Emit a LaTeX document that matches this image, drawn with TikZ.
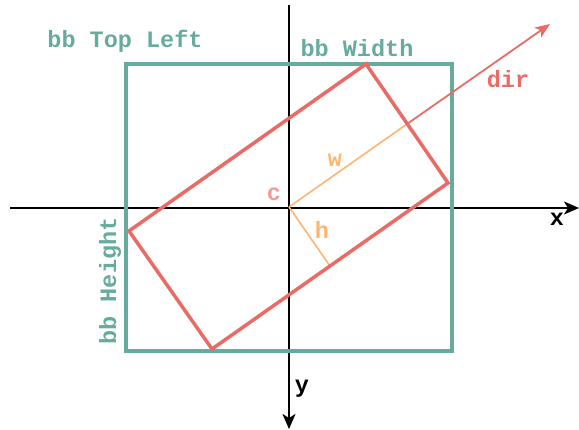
\documentclass[tikz,border=0pt]{standalone}
\usepackage{fontspec}
\setmonofont{Liberation Mono}
\usetikzlibrary{arrows.meta}
\definecolor{teal1}{HTML}{67AB9F}
\definecolor{red1}{HTML}{EA6B66}
\definecolor{orange1}{HTML}{FFB570}
\definecolor{pink1}{HTML}{F19C99}
\tikzset{
  lbl/.style={font=\ttfamily\bfseries\fontsize{23.5}{25}\selectfont, inner sep=0pt},
  axis/.style={line width=2pt, black, -{Stealth[length=15pt,width=13pt,inset=4pt]}},
  bbox/.style={line width=3.5pt, teal1},
  rbox/.style={line width=3.5pt, red1, line join=miter},
  olin/.style={line width=1.6pt, orange1},
  dirarrow/.style={line width=1.8pt, red1, -{Stealth[length=15pt,width=12pt,inset=4pt]}}
}
\begin{document}
\begin{tikzpicture}[x=1pt,y=-1pt]
\useasboundingbox (0,0) rectangle (579,430);
% axes
\coordinate (xl) at (10,208);
\coordinate (xr) at (579,208);
\coordinate (yt) at (289,5);
\coordinate (yb) at (289,429);
\draw[axis] (xl) -- (xr);
\draw[axis] (yt) -- (yb);
% bounding box
\coordinate (bbtl) at (126,64);
\coordinate (bbbr) at (452,351);
\draw[bbox] (bbtl) rectangle (bbbr);
% rotated rectangle
\coordinate (c) at (289,207);
\coordinate (rt) at (366,64);
\coordinate (rr) at (448,183);
\coordinate (rbt) at (212,349);
\coordinate (rl) at (129,231);
\coordinate (wend) at (407,124);
\coordinate (hend) at (330,266);
\coordinate (dtip) at (550,24);
\draw[dirarrow] (wend) -- (dtip);
\draw[olin] (c) -- (wend);
\draw[olin] (c) -- (hend);
\draw[rbox] (rt) -- (rr) -- (rbt) -- (rl) -- cycle;
% labels
\node[lbl, text=teal1] (ltl) at (125,41) {bb Top Left};
\node[lbl, text=teal1] (lw) at (357,48) {bb Width};
\node[lbl, text=teal1, rotate=90] (lh) at (110,281) {bb Height};
\node[lbl, text=red1] (ldir) at (508,79) {dir};
\node[lbl, text=orange1] (lwl) at (335,160) {w};
\node[lbl, text=orange1] (lhl) at (322,230) {h};
\node[lbl, text=pink1] (lc) at (274,194) {c};
\node[lbl, text=black] (lx) at (557,219) {x};
\node[lbl, text=black] (ly) at (302,389) {y};
\end{tikzpicture}
\end{document}
